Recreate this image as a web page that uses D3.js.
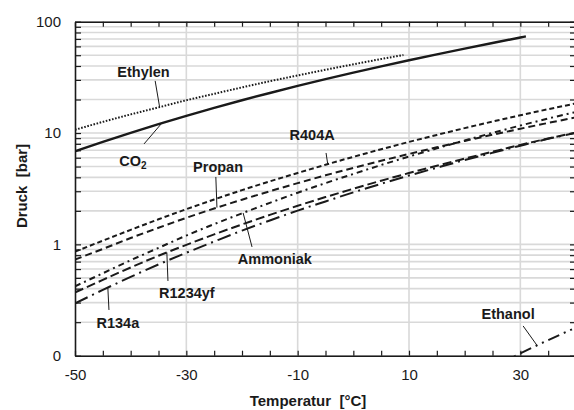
<!DOCTYPE html>
<html>
<head>
<meta charset="utf-8">
<script src="https://cdn.jsdelivr.net/npm/d3@7"></script>
<style>
  html, body { margin: 0; padding: 0; background: #fff; }
  svg { display: block; font-family: "Liberation Sans", Arial, sans-serif; }
</style>
</head>
<body>
<svg id="chart" width="574" height="410"></svg>
<script>
// Saturation pressures [bar] over temperature [°C]
const temps    = [-50,-45,-40,-35,-30,-25,-20,-15,-10,-5,0,5,10,15,20,25,30,35,40];
const r404a    = [0.86,1.08,1.35,1.68,2.07,2.53,3.07,3.68,4.38,5.19,6.11,7.15,8.32,9.62,11.07,12.67,14.43,16.37,18.45];
const propan   = [0.73,0.91,1.14,1.41,1.73,2.10,2.52,3.00,3.55,4.17,4.86,5.63,6.49,7.44,8.49,9.65,10.93,12.32,13.84];
const ammoniak = [0.42,0.55,0.72,0.93,1.20,1.52,1.90,2.36,2.91,3.55,4.29,5.16,6.15,7.28,8.57,10.03,11.67,13.50,15.45];
const r1234yf  = [0.37,0.48,0.62,0.79,0.99,1.23,1.51,1.84,2.22,2.66,3.16,3.73,4.37,5.09,5.89,6.80,7.83,8.93,10.10];
const r134a    = [0.295,0.39,0.51,0.66,0.84,1.06,1.33,1.64,2.01,2.43,2.93,3.50,4.15,4.88,5.72,6.65,7.70,8.87,10.05];

const co2Temps = [-50,-45,-40,-35,-30,-25,-20,-15,-10,-5,0,5,10,15,20,25,30,31];
const co2      = [6.85,8.32,10.05,12.02,14.28,16.83,19.70,22.90,26.49,30.47,34.85,39.69,45.02,50.87,57.29,64.34,72.14,73.77];

const ethylenTemps = [-50,-45,-40,-35,-30,-25,-20,-15,-10,-5,0,5,9];
const ethylen      = [10.7,12.6,14.7,17.0,19.7,22.5,25.7,29.2,32.9,37.0,41.4,46.2,50.2];

const ethanolTemps = [25,30,35,40];
const ethanol      = [0.079,0.105,0.138,0.179];

// Axis labelling
const xLabelTicks = [-50,-30,-10,10,30];
const yLabelText  = new Map([[0.1,"0"],[1,"1"],[10,"10"],[100,"100"]]);
const xTitle = "Temperatur  [°C]";
const yTitle = "Druck  [bar]";

// Curve styling and annotation placement (label centre / leader start in data units,
// leader end = point on the curve at temperature `onT`)
const series = [
  { name:"Ethylen",  t:ethylenTemps, p:ethylen,  dash:"1.6,1.6", w:2,
    label:[-37.7,35.4], from:[-35.6,29.4], onT:-34.8 },
  { name:"CO2",      t:co2Temps,     p:co2,      dash:null,      w:2.4,
    label:[-39.6,5.61], from:[-37.6,7.98], onT:-34.4 },
  { name:"R404A",    t:temps,        p:r404a,    dash:"5,3",     w:2,
    label:[-7.4,9.61], from:[-4.9,6.62], onT:-4.6 },
  { name:"Propan",   t:temps,        p:propan,   dash:"7,4",     w:2,
    label:[-24.3,4.96], from:[-24.7,4.03], onT:-24.5 },
  { name:"Ammoniak", t:temps,        p:ammoniak, dash:"6,4,2,4", w:2,
    label:[-14.1,0.739], from:[-18.2,0.948], onT:-19.8 },
  { name:"R1234yf",  t:temps,        p:r1234yf,  dash:"9,4",     w:2,
    label:[-29.9,0.368], from:[-33.3,0.469], onT:-33.5 },
  { name:"R134a",    t:temps,        p:r134a,    dash:"14,5,2,5", w:2,
    label:[-42.3,0.197], from:[-43.9,0.2575], onT:-44.1 },
  { name:"Ethanol",  t:ethanolTemps, p:ethanol,  dash:"12,5,2,5,2,5", w:2,
    label:[27.8,0.237], from:[30.5,0.185], onT:33.0 }
];

const svg = d3.select("#chart");
const plotLeft = 75, plotRight = 576, plotTop = 21.7, plotBottom = 355.7;

const x = d3.scaleLinear().domain([-50,40]).range([plotLeft,plotRight]);
const y = d3.scaleLog().domain([0.1,100]).range([plotBottom,plotTop]);

const ink = "#1a1a1a";
const gridColor = "#d9d9d9";

svg.append("defs").append("clipPath").attr("id","plotArea")
  .append("rect").attr("x",plotLeft).attr("y",plotTop)
  .attr("width",plotRight-plotLeft).attr("height",plotBottom-plotTop);

// Gridlines
const grid = svg.append("g");
grid.selectAll("line.h").data(y.ticks()).join("line").attr("class","h")
  .attr("x1",plotLeft).attr("x2",plotRight)
  .attr("y1",d=>y(d)).attr("y2",d=>y(d))
  .attr("stroke",gridColor).attr("stroke-width",1.6);
grid.selectAll("line.v").data(xLabelTicks.filter(d=>d>-50)).join("line").attr("class","v")
  .attr("x1",d=>x(d)).attr("x2",d=>x(d))
  .attr("y1",plotTop).attr("y2",plotBottom)
  .attr("stroke",gridColor).attr("stroke-width",1.6);

// Axes with inward ticks
const xMinor = d3.range(-50,41,5);
function styleAxis(g){
  g.attr("font-family",null);
  g.select(".domain").attr("stroke",ink).attr("stroke-width",1.6);
  g.selectAll(".tick line").attr("stroke",ink).attr("stroke-width",1.2);
  g.selectAll(".tick text").attr("fill",ink).attr("font-size",15);
}
svg.append("g").attr("transform",`translate(0,${plotBottom})`)
  .call(d3.axisBottom(x).tickValues(xMinor).tickSize(-5).tickSizeOuter(0).tickPadding(14)
        .tickFormat(d=>xLabelTicks.includes(d)?String(d):""))
  .call(styleAxis);
svg.append("g").attr("transform",`translate(0,${plotTop})`)
  .call(d3.axisTop(x).tickValues(xMinor).tickSize(-5).tickSizeOuter(0).tickFormat(""))
  .call(styleAxis);
svg.append("g").attr("transform",`translate(${plotLeft},0)`)
  .call(d3.axisLeft(y).tickValues(y.ticks()).tickSize(-6).tickSizeOuter(0).tickPadding(14)
        .tickFormat(d=>yLabelText.get(+d.toPrecision(3)) || ""))
  .call(styleAxis);
svg.append("g").attr("transform",`translate(${plotRight},0)`)
  .call(d3.axisRight(y).tickValues(y.ticks()).tickSize(-6).tickSizeOuter(0).tickFormat(""))
  .call(styleAxis);

// Curves
const line = d3.line().curve(d3.curveMonotoneX).x(d=>x(d[0])).y(d=>y(d[1]));
const curves = svg.append("g").attr("clip-path","url(#plotArea)");
series.forEach(s=>{
  const pts = s.t.map((t,i)=>[t,s.p[i]]);
  curves.append("path").datum(pts)
    .attr("d",line).attr("fill","none")
    .attr("stroke",ink).attr("stroke-width",s.w)
    .attr("stroke-dasharray",s.dash);
});

// Log-linear lookup of a curve value at temperature t
function valueAt(s,t){
  for(let i=0;i<s.t.length-1;i++){
    if(t>=s.t[i] && t<=s.t[i+1]){
      const f=(t-s.t[i])/(s.t[i+1]-s.t[i]);
      return Math.exp(Math.log(s.p[i])+f*(Math.log(s.p[i+1])-Math.log(s.p[i])));
    }
  }
  return s.p[s.p.length-1];
}

// Leaders and labels
const notes = svg.append("g");
series.forEach(s=>{
  notes.append("line")
    .attr("x1",x(s.from[0])).attr("y1",y(s.from[1]))
    .attr("x2",x(s.onT)).attr("y2",y(valueAt(s,s.onT)))
    .attr("stroke",ink).attr("stroke-width",1);
  const t = notes.append("text")
    .attr("x",x(s.label[0])).attr("y",y(s.label[1])).attr("dy","0.36em")
    .attr("text-anchor","middle").attr("font-size",14.5).attr("font-weight","bold")
    .attr("fill",ink);
  if(s.name==="CO2"){
    t.append("tspan").text("CO");
    t.append("tspan").attr("font-size",10).attr("dy","0.3em").text("2");
  } else {
    t.text(s.name);
  }
});

// Axis titles
svg.append("text").attr("x",308).attr("y",406)
  .attr("text-anchor","middle").attr("font-size",15).attr("font-weight","bold")
  .attr("fill",ink).style("white-space","pre").text(xTitle);
svg.append("text").attr("transform","translate(27,186) rotate(-90)")
  .attr("text-anchor","middle").attr("font-size",15).attr("font-weight","bold")
  .attr("fill",ink).style("white-space","pre").text(yTitle);
</script>
</body>
</html>
